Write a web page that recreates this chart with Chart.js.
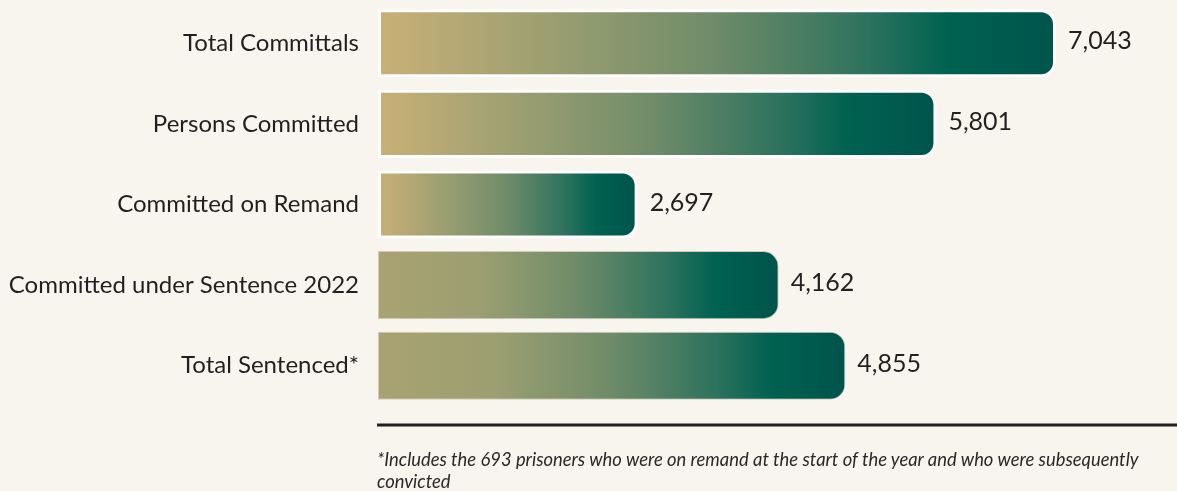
<!DOCTYPE html>
<html>
<head>
<meta charset="utf-8">
<script src="https://cdn.jsdelivr.net/npm/chart.js@4.4.1/dist/chart.umd.min.js"></script>
<style>
  html, body { margin: 0; padding: 0; background: #f8f5ee; }
  #wrap { position: relative; width: 1177px; height: 491px; overflow: hidden; }
  #chart { position: absolute; left: 0; top: 0; }
  #note {
    position: absolute; left: 377px; top: 448px; width: 790px;
    font-family: Lato, sans-serif; font-style: italic; font-size: 18.4px;
    line-height: 22px; color: #2b2829;
  }
</style>
</head>
<body>
<div id="wrap">
  <canvas id="chart" width="1177" height="491"></canvas>
  <div id="note">*Includes the 693 prisoners who were on remand at the start of the year and who were subsequently convicted</div>
</div>
<script>
const categories = ["Total Committals", "Persons Committed", "Committed on Remand", "Committed under Sentence 2022", "Total Sentenced*"];
const values = [7043, 5801, 2697, 4162, 4855];
const valueLabels = ["7,043", "5,801", "2,697", "4,162", "4,855"];

const INK = "#231f20";
// first three bars sit on a white outline and start warmer tan
const START_COLORS = ["#c9b077", "#c9b077", "#c9b077", "#a9a271", "#a9a271"];
const EDGE_COLORS = ["#ffffff", "#ffffff", "#ffffff", "#cfcbb8", "#cfcbb8"];
const EDGE_WIDTHS = [3, 3, 3, 1, 1];

function barFill(context) {
  const chart = context.chart;
  const xs = chart.scales.x;
  const i = context.dataIndex;
  if (!chart.chartArea || !xs) return START_COLORS[i];
  const x0 = xs.getPixelForValue(0);
  const x1 = xs.getPixelForValue(values[i]);
  const g = chart.ctx.createLinearGradient(x0, 0, x1, 0);
  g.addColorStop(0, START_COLORS[i]);
  g.addColorStop(0.25, "#9c9f71");
  g.addColorStop(0.5, "#6e8b69");
  g.addColorStop(0.72, "#2e735e");
  g.addColorStop(0.84, "#006251");
  g.addColorStop(1, "#00544b");
  return g;
}

const valueText = {
  id: "valueText",
  afterDatasetsDraw(chart) {
    const ctx = chart.ctx;
    ctx.save();
    ctx.font = "25px Lato, sans-serif";
    ctx.fillStyle = INK;
    ctx.textAlign = "left";
    ctx.textBaseline = "middle";
    chart.getDatasetMeta(0).data.forEach((bar, i) => {
      ctx.fillText(valueLabels[i], bar.x + 12, bar.y - 2);
    });
    ctx.restore();
  }
};

const baseLine = {
  id: "baseLine",
  afterDraw(chart) {
    const ctx = chart.ctx;
    const y = chart.chartArea.bottom + 19;
    ctx.save();
    ctx.strokeStyle = INK;
    ctx.lineWidth = 3;
    ctx.beginPath();
    ctx.moveTo(chart.chartArea.left - 1, y);
    ctx.lineTo(chart.width, y);
    ctx.stroke();
    ctx.restore();
  }
};

new Chart(document.getElementById("chart"), {
  type: "bar",
  data: {
    labels: categories,
    datasets: [{
      data: values,
      backgroundColor: barFill,
      borderColor: EDGE_COLORS,
      borderWidth: EDGE_WIDTHS,
      borderSkipped: false,
      borderRadius: { topLeft: 0, bottomLeft: 0, topRight: 15, bottomRight: 15 },
      categoryPercentage: 0.845,
      barPercentage: 1
    }]
  },
  options: {
    indexAxis: "y",
    responsive: false,
    animation: false,
    layout: { padding: { top: 3, bottom: 85, left: 0, right: 0 } },
    plugins: { legend: { display: false }, tooltip: { enabled: false } },
    scales: {
      x: { display: false, min: 0, max: 8300 },
      y: {
        grid: { display: false, drawTicks: false },
        border: { display: false },
        ticks: { color: INK, font: { family: "Lato", size: 24 }, padding: 19 },
        afterFit(scale) {
          scale.width = 378;
          scale.paddingTop = 0;
          scale.paddingBottom = 0;
        }
      }
    }
  },
  plugins: [valueText, baseLine]
});
</script>
</body>
</html>
